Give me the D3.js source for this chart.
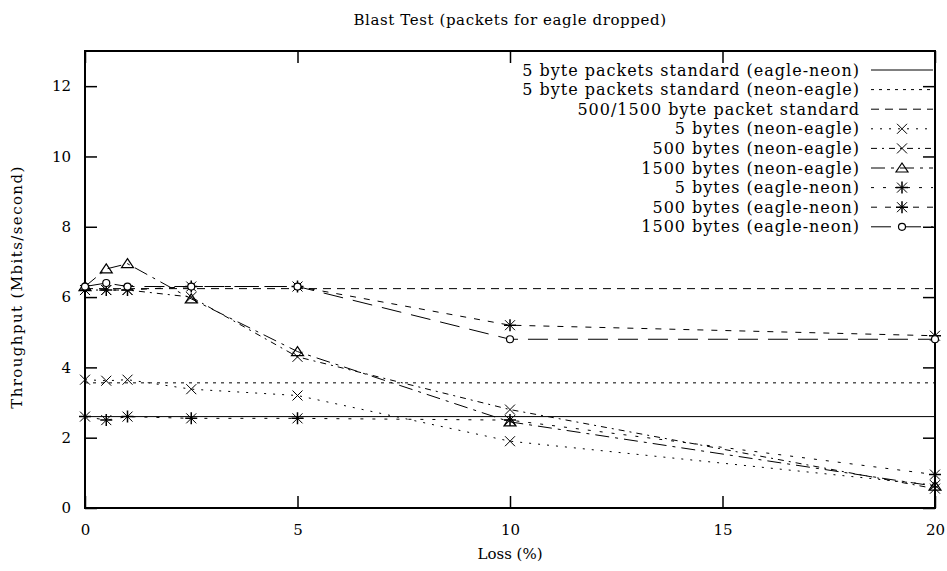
<!DOCTYPE html>
<html>
<head>
  <meta charset="utf-8">
  <title>Blast Test</title>
  <script src="https://d3js.org/d3.v7.min.js"></script>
  <style>
    body { margin: 0; background: #fff; }
    text { font-family: "DejaVu Serif", serif; font-size: 15px; fill: #000; }
  </style>
</head>
<body>
  <script>
    // data
    var lossValues = [0, 0.5, 1, 2.5, 5, 10, 20];
    var neon5 = [3.65, 3.62, 3.65, 3.38, 3.2, 1.9, 0.65];
    var neon500 = [6.2, 6.2, 6.2, 6.0, 4.3, 2.8, 0.55];
    var neon1500 = [6.3, 6.8, 6.95, 5.95, 4.45, 2.45, 0.62];
    var eagle5 = [2.6, 2.5, 2.6, 2.55, 2.55, 2.5, 0.95];
    var eagle500 = [6.2, 6.2, 6.2, 6.3, 6.3, 5.2, 4.9];
    var eagle1500 = [6.3, 6.4, 6.3, 6.3, 6.3, 4.8, 4.8];
    var standardValues = [2.6, 3.56, 6.24];
    var xTicks = [0, 5, 10, 15, 20];
    var yTicks = [0, 2, 4, 6, 8, 10, 12];

    var standards = [
      { label: '5 byte packets standard (eagle-neon)', value: standardValues[0], dash: null },
      { label: '5 byte packets standard (neon-eagle)', value: standardValues[1], dash: '3,5' },
      { label: '500/1500 byte packet standard', value: standardValues[2], dash: '8,6' }
    ];
    var series = [
      { label: '5 bytes (neon-eagle)', values: neon5, dash: '2,7', mark: 'cross' },
      { label: '500 bytes (neon-eagle)', values: neon500, dash: '6,5,2,5', mark: 'cross' },
      { label: '1500 bytes (neon-eagle)', values: neon1500, dash: '14,6,3,6', mark: 'triangle' },
      { label: '5 bytes (eagle-neon)', values: eagle5, dash: '3,9', mark: 'star' },
      { label: '500 bytes (eagle-neon)', values: eagle500, dash: '6,8', mark: 'star' },
      { label: '1500 bytes (eagle-neon)', values: eagle1500, dash: '20,10', mark: 'circle' }
    ];

    var width = 947, height = 571;
    var plotLeft = 85, plotRight = 935, plotTop = 51, plotBottom = 508;

    var svg = d3.select('body').append('svg')
      .attr('width', width)
      .attr('height', height);

    var x = d3.scaleLinear().domain([0, 20]).range([plotLeft, plotRight]);
    var y = d3.scaleLinear().domain([0, 13]).range([plotBottom, plotTop]);

    // axes, ticks pointing inward like gnuplot
    svg.append('g').attr('transform', 'translate(0,' + plotBottom + ')')
      .call(d3.axisBottom(x).tickValues(xTicks).tickSize(-12).tickPadding(16));
    svg.append('g').attr('transform', 'translate(' + plotLeft + ',0)')
      .call(d3.axisLeft(y).tickValues(yTicks).tickSize(-12).tickPadding(14));
    svg.append('g').attr('transform', 'translate(0,' + plotTop + ')')
      .call(d3.axisTop(x).tickValues(xTicks).tickSize(-12).tickFormat(''));
    svg.append('g').attr('transform', 'translate(' + plotRight + ',0)')
      .call(d3.axisRight(y).tickValues(yTicks).tickSize(-12).tickFormat(''));

    svg.selectAll('.domain').remove();
    svg.selectAll('.tick line').attr('stroke', '#000').attr('stroke-width', 1.5);
    svg.selectAll('.tick text').attr('font-family', null).attr('font-size', null);

    svg.append('rect')
      .attr('x', plotLeft).attr('y', plotTop)
      .attr('width', plotRight - plotLeft).attr('height', plotBottom - plotTop)
      .attr('fill', 'none').attr('stroke', '#000').attr('stroke-width', 2);

    // titles
    svg.append('text').attr('x', (plotLeft + plotRight) / 2).attr('y', 25)
      .attr('text-anchor', 'middle').attr('letter-spacing', '0.6px')
      .text('Blast Test (packets for eagle dropped)');
    svg.append('text').attr('x', (plotLeft + plotRight) / 2).attr('y', 559)
      .attr('text-anchor', 'middle').text('Loss (%)');
    svg.append('text')
      .attr('transform', 'translate(22,287) rotate(-90)')
      .attr('text-anchor', 'middle').attr('letter-spacing', '1.4px')
      .text('Throughput (Mbits/second)');

    function drawMark(g, kind, cx, cy) {
      var s = 5;
      if (kind === 'cross' || kind === 'star') {
        g.append('path')
          .attr('d', 'M' + (cx - s) + ',' + (cy - s) + 'L' + (cx + s) + ',' + (cy + s) +
            'M' + (cx - s) + ',' + (cy + s) + 'L' + (cx + s) + ',' + (cy - s))
          .attr('stroke', '#000').attr('stroke-width', 1);
      }
      if (kind === 'star') {
        g.append('path')
          .attr('d', 'M' + (cx - s - 1) + ',' + cy + 'L' + (cx + s + 1) + ',' + cy +
            'M' + cx + ',' + (cy - s - 1) + 'L' + cx + ',' + (cy + s + 1))
          .attr('stroke', '#000').attr('stroke-width', 1.5);
      }
      if (kind === 'triangle') {
        g.append('path')
          .attr('d', 'M' + cx + ',' + (cy - s) + 'L' + (cx + s + 1) + ',' + (cy + s - 1) +
            'L' + (cx - s - 1) + ',' + (cy + s - 1) + 'Z')
          .attr('fill', 'none').attr('stroke', '#000').attr('stroke-width', 1.2);
      }
      if (kind === 'circle') {
        g.append('circle').attr('cx', cx).attr('cy', cy).attr('r', 3.5)
          .attr('fill', '#fff').attr('stroke', '#000').attr('stroke-width', 1.2);
      }
    }

    // standard reference lines across the full range
    var plot = svg.append('g');
    standards.forEach(function(s) {
      plot.append('line')
        .attr('x1', x(0)).attr('x2', x(20))
        .attr('y1', y(s.value)).attr('y2', y(s.value))
        .attr('stroke', '#000').attr('stroke-width', 1)
        .attr('stroke-dasharray', s.dash);
    });

    var line = d3.line()
      .x(function(d, i) { return x(lossValues[i]); })
      .y(function(d) { return y(d); });

    series.forEach(function(s) {
      plot.append('path')
        .attr('d', line(s.values))
        .attr('fill', 'none').attr('stroke', '#000').attr('stroke-width', 1)
        .attr('stroke-dasharray', s.dash);
      s.values.forEach(function(v, i) {
        drawMark(plot, s.mark, x(lossValues[i]), y(v));
      });
    });

    // legend, top right inside the box
    var legendItems = standards.concat(series);
    var legend = svg.append('g');
    var rowY = 70, rowStep = 19.6, textEnd = 860, lineX1 = 871, lineX2 = 933;
    legendItems.forEach(function(item, i) {
      var ly = rowY + i * rowStep;
      legend.append('text')
        .attr('x', textEnd).attr('y', ly).attr('dy', '0.35em')
        .attr('text-anchor', 'end').attr('letter-spacing', '1px')
        .style('font-size', '16px')
        .text(item.label);
      legend.append('line')
        .attr('x1', lineX1).attr('x2', lineX2)
        .attr('y1', ly).attr('y2', ly)
        .attr('stroke', '#000').attr('stroke-width', 1)
        .attr('stroke-dasharray', item.dash);
      if (item.mark) drawMark(legend, item.mark, (lineX1 + lineX2) / 2, ly);
    });
  </script>
</body>
</html>
